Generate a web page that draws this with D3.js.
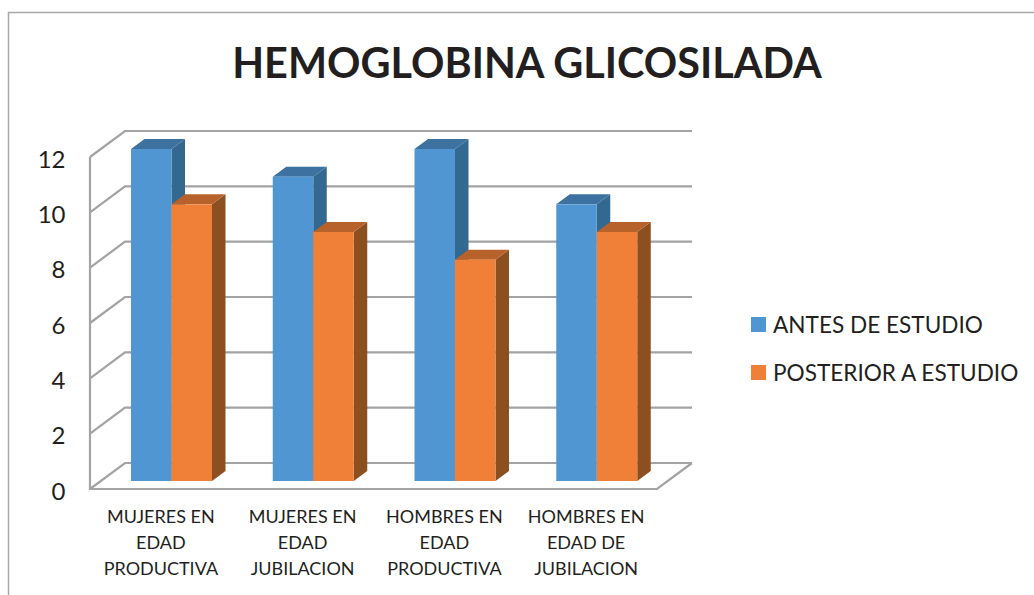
<!DOCTYPE html>
<html>
<head>
<meta charset="utf-8">
<script src="https://cdn.jsdelivr.net/npm/d3@7"></script>
<style>
  html, body { margin: 0; padding: 0; background: #fff; }
  svg { display: block; }
  text { font-family: Lato, "Open Sans", sans-serif; fill: #231f20; }
</style>
</head>
<body>
<svg id="chart"></svg>
<script>
var categories = [
    ["MUJERES EN", "EDAD", "PRODUCTIVA"],
    ["MUJERES EN", "EDAD", "JUBILACION"],
    ["HOMBRES EN", "EDAD", "PRODUCTIVA"],
    ["HOMBRES EN", "EDAD DE", "JUBILACION"]
];
var seriesNames = ["ANTES DE ESTUDIO", "POSTERIOR A ESTUDIO"];
var antes = [12, 11, 12, 10];
var posterior = [10, 9, 8, 9];
var yTicks = [0, 2, 4, 6, 8, 10, 12];
var title = "HEMOGLOBINA GLICOSILADA";

var WIDTH = 1034, HEIGHT = 595;
var COLOURS = ["#4f96d2", "#f08038"];
var TOPS = ["#3d72a0", "#b6622a"];
var SIDES = ["#336890", "#8c5020"];
var GRID = "#a3a3a3";

// wall depth of the fake 3d box, and how far the bars sit inside it
var DEPTH_X = 35, DEPTH_Y = -26;
var BAR_DY = -8;
var BAR_DEPTH_X = 13.5, BAR_DEPTH_Y = -10;

var svg = d3.select("#chart").attr("width", WIDTH).attr("height", HEIGHT);

// y scale
var y = d3.scaleLinear().domain([0, 12]).range([489, 157]);
// x scale, one band per category
var x = d3.scaleBand().domain(d3.range(categories.length)).range([90, 657]);
// bars inside each band
var xInner = d3.scaleBand().domain([0, 1]).range([41, 122]);

// outer frame
svg.append("path")
    .attr("d", "M8.5,595V12.5H1034")
    .attr("fill", "none")
    .attr("stroke", "#a8a8a8")
    .attr("stroke-width", 1.5);

// walls and floor
var gridG = svg.append("g")
    .attr("fill", "none")
    .attr("stroke", GRID)
    .attr("stroke-width", 2.2);

yTicks.forEach(function (t) {
    gridG.append("path")
        .attr("d", d3.line()([
            [x.range()[0], y(t)],
            [x.range()[0] + DEPTH_X, y(t) + DEPTH_Y],
            [x.range()[1] + DEPTH_X, y(t) + DEPTH_Y]
        ]));
});

gridG.append("path").attr("d", d3.line()([
    [x.range()[0], y(12)],
    [x.range()[0], y(0)],
    [x.range()[1], y(0)],
    [x.range()[1] + DEPTH_X, y(0) + DEPTH_Y]
]));

// bars
function drawSeries(values, s) {
    var g = svg.append("g").attr("class", "series-" + s);
    values.forEach(function (v, i) {
        var x0 = x(i) + xInner(s);
        var x1 = x0 + xInner.bandwidth();
        var yTop = y(v) + BAR_DY;
        var yBase = y(0) + BAR_DY;

        // side face
        g.append("path")
            .attr("fill", SIDES[s])
            .attr("d", d3.line()([
                [x1, yTop],
                [x1 + BAR_DEPTH_X, yTop + BAR_DEPTH_Y],
                [x1 + BAR_DEPTH_X, yBase + BAR_DEPTH_Y],
                [x1, yBase]
            ]) + "Z");
        // top face
        g.append("path")
            .attr("fill", TOPS[s])
            .attr("d", d3.line()([
                [x0, yTop],
                [x0 + BAR_DEPTH_X, yTop + BAR_DEPTH_Y],
                [x1 + BAR_DEPTH_X, yTop + BAR_DEPTH_Y],
                [x1, yTop]
            ]) + "Z");
        // front face
        g.append("rect")
            .attr("x", x0)
            .attr("y", yTop)
            .attr("width", xInner.bandwidth())
            .attr("height", yBase - yTop)
            .attr("fill", COLOURS[s]);
    });
}
drawSeries(antes, 0);
drawSeries(posterior, 1);

// y axis labels
svg.append("g").selectAll("text")
    .data(yTicks)
    .enter().append("text")
    .attr("x", 65.5)
    .attr("y", function (d) { return y(d); })
    .attr("dy", "0.44em")
    .attr("text-anchor", "end")
    .style("font-size", "24px")
    .text(function (d) { return d; });

// category labels
var catG = svg.append("g").selectAll("g")
    .data(categories)
    .enter().append("g")
    .attr("transform", function (d, i) {
        return "translate(" + (x(i) + x.bandwidth() / 2) + ",0)";
    });

catG.selectAll("text")
    .data(function (d) { return d; })
    .enter().append("text")
    .attr("y", function (d, i) { return 523 + i * 26; })
    .attr("text-anchor", "middle")
    .style("font-size", "18px")
    .text(function (d) { return d; });

// legend
var legend = svg.append("g").selectAll("g")
    .data(seriesNames)
    .enter().append("g")
    .attr("transform", function (d, i) { return "translate(751," + (317 + i * 48) + ")"; });

legend.append("rect")
    .attr("width", 15)
    .attr("height", 15)
    .attr("fill", function (d, i) { return COLOURS[i]; });

legend.append("text")
    .attr("x", 22)
    .attr("y", 16)
    .style("font-size", "22.6px")
    .text(function (d) { return d; });

// title
svg.append("text")
    .attr("x", 527)
    .attr("y", 78)
    .attr("text-anchor", "middle")
    .style("font-size", "41.4px")
    .style("font-weight", "bold")
    .text(title);
</script>
</body>
</html>
